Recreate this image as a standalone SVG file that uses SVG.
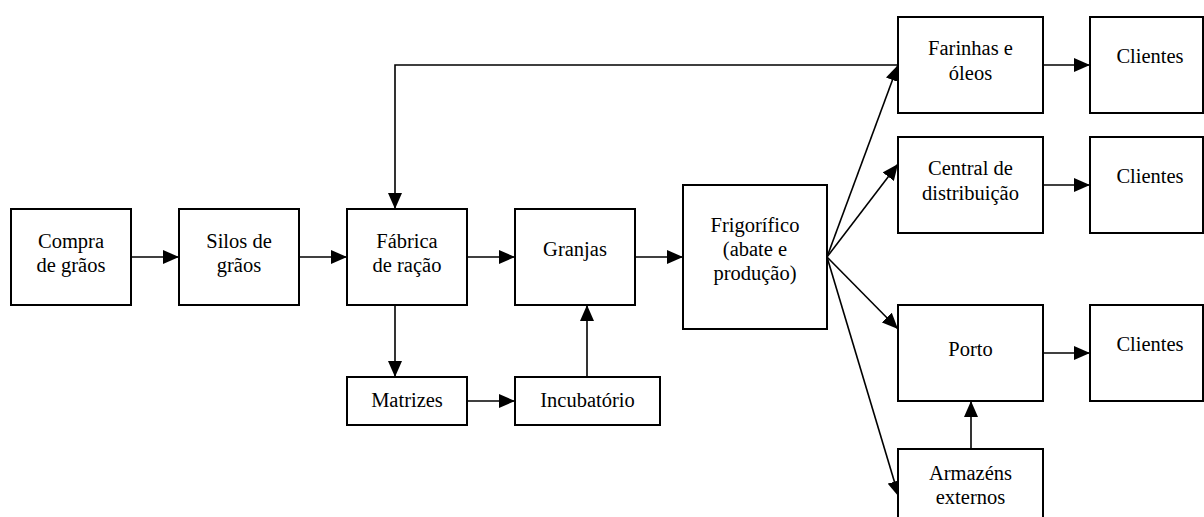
<svg xmlns="http://www.w3.org/2000/svg" width="1204" height="517" viewBox="0 0 1204 517">
<style>
.box{fill:#fff;stroke:#000;stroke-width:2}
.t{font-family:'Liberation Serif','Times New Roman',Times,'DejaVu Serif',serif;font-size:20.5px;fill:#000;text-anchor:middle}
.c{fill:none;stroke:#000;stroke-width:1.6}
</style>
<defs>
<marker id="ah" markerUnits="userSpaceOnUse" markerWidth="16" markerHeight="14" refX="16" refY="7" orient="auto">
<path d="M0,0 L16,7 L0,14 z" fill="#000"/>
</marker>
</defs>
<rect width="1204" height="517" fill="#fff"/>
<g id="connectors">
<path class="c" d="M131,257 L179,257" marker-end="url(#ah)"/>
<path class="c" d="M299,257 L347,257" marker-end="url(#ah)"/>
<path class="c" d="M467,257 L515,257" marker-end="url(#ah)"/>
<path class="c" d="M635,257 L683,257" marker-end="url(#ah)"/>
<path class="c" d="M1043,65 L1090,65" marker-end="url(#ah)"/>
<path class="c" d="M1043,185 L1090,185" marker-end="url(#ah)"/>
<path class="c" d="M1043,353 L1090,353" marker-end="url(#ah)"/>
<path class="c" d="M898,65 L395,65 L395,209" marker-end="url(#ah)"/>
<path class="c" d="M395,305 L395,377" marker-end="url(#ah)"/>
<path class="c" d="M467,401 L515,401" marker-end="url(#ah)"/>
<path class="c" d="M587,377 L587,305" marker-end="url(#ah)"/>
<path class="c" d="M971,449 L971,401" marker-end="url(#ah)"/>
<path class="c" d="M827,257 L898,65" marker-end="url(#ah)"/>
<path class="c" d="M827,257 L898,164" marker-end="url(#ah)"/>
<path class="c" d="M827,257 L898,329" marker-end="url(#ah)"/>
<path class="c" d="M827,257 L899,497" marker-end="url(#ah)"/>
</g>
<g id="compra"><rect class="box" x="11" y="209" width="120" height="96"/><text class="t" x="71" y="248">Compra</text><text class="t" x="71" y="272">de grãos</text></g>
<g id="silos"><rect class="box" x="179" y="209" width="120" height="96"/><text class="t" x="239" y="248">Silos de</text><text class="t" x="239" y="272">grãos</text></g>
<g id="fabrica"><rect class="box" x="347" y="209" width="120" height="96"/><text class="t" x="407" y="248">Fábrica</text><text class="t" x="407" y="272">de ração</text></g>
<g id="granjas"><rect class="box" x="515" y="209" width="120" height="96"/><text class="t" x="575" y="256">Granjas</text></g>
<g id="frigorifico"><rect class="box" x="683" y="185" width="144" height="144"/><text class="t" x="755" y="232">Frigorífico</text><text class="t" x="755" y="256">(abate e</text><text class="t" x="755" y="280">produção)</text></g>
<g id="matrizes"><rect class="box" x="347" y="377" width="120" height="48"/><text class="t" x="407" y="407">Matrizes</text></g>
<g id="incubatorio"><rect class="box" x="515" y="377" width="145" height="48"/><text class="t" x="587.5" y="407">Incubatório</text></g>
<g id="farinhas"><rect class="box" x="898" y="17" width="145" height="96"/><text class="t" x="970.5" y="55">Farinhas e</text><text class="t" x="970.5" y="80">óleos</text></g>
<g id="central"><rect class="box" x="898" y="137" width="145" height="96"/><text class="t" x="970.5" y="175">Central de</text><text class="t" x="970.5" y="200">distribuição</text></g>
<g id="porto"><rect class="box" x="898" y="305" width="145" height="96"/><text class="t" x="970.5" y="356">Porto</text></g>
<g id="armazens"><rect class="box" x="898" y="449" width="145" height="96"/><text class="t" x="970.5" y="480">Armazéns</text><text class="t" x="970.5" y="504">externos</text></g>
<g id="clientes1"><rect class="box" x="1090" y="17" width="113" height="96"/><text class="t" x="1150" y="63">Clientes</text></g>
<g id="clientes2"><rect class="box" x="1090" y="137" width="113" height="96"/><text class="t" x="1150" y="183">Clientes</text></g>
<g id="clientes3"><rect class="box" x="1090" y="305" width="113" height="96"/><text class="t" x="1150" y="351">Clientes</text></g>
</svg>
